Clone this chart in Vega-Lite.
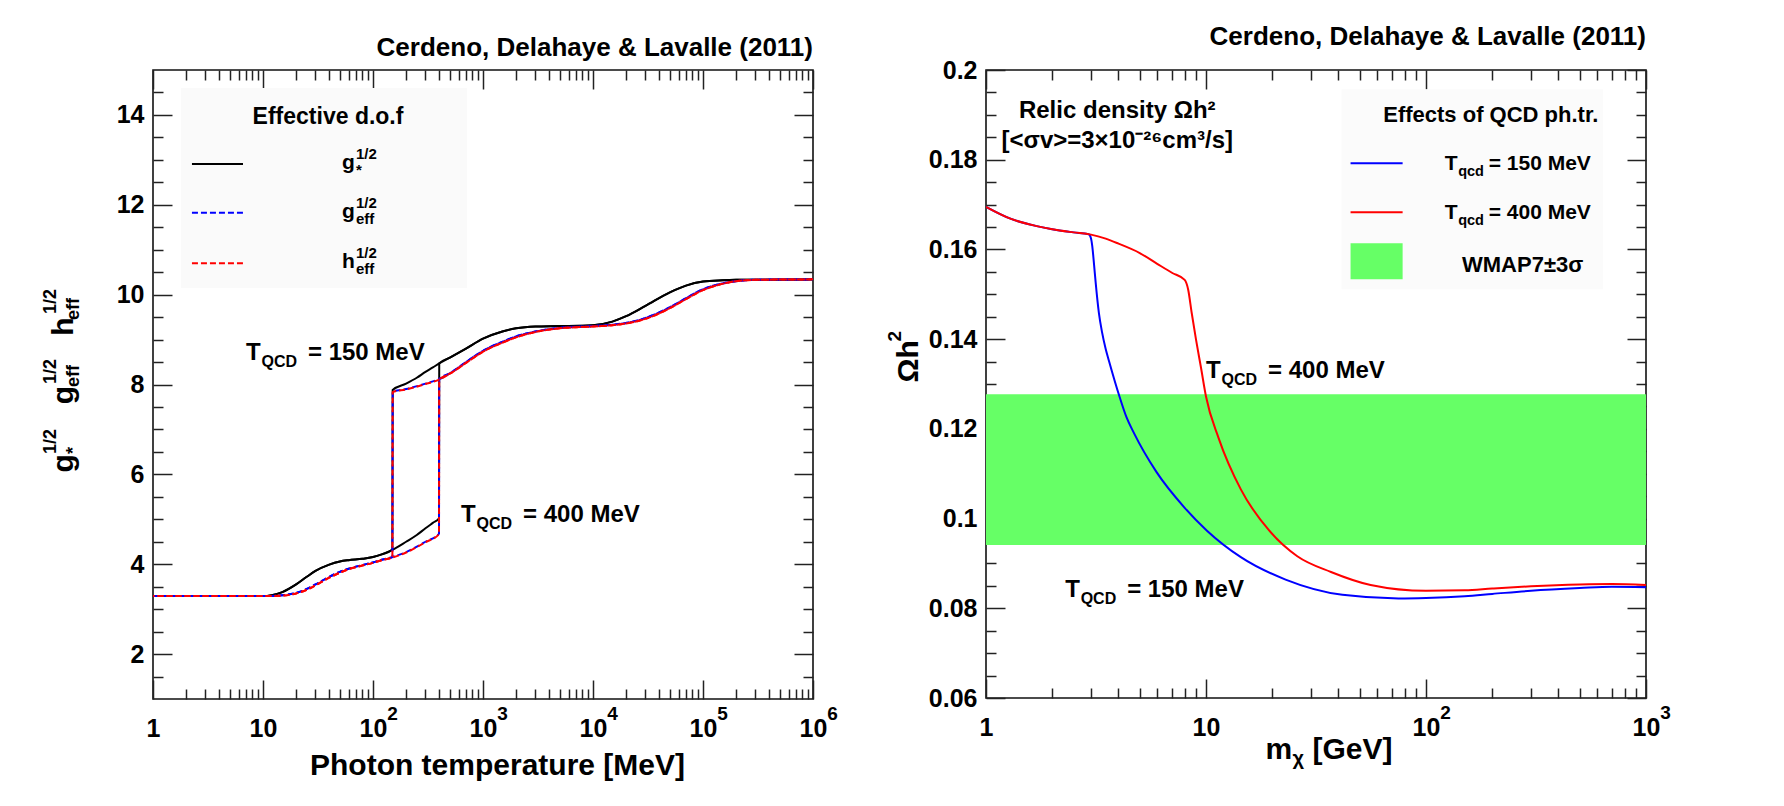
{
 "$schema": "https://vega.github.io/schema/vega-lite/v6.json",
 "background": "#ffffff",
 "padding": {"left": 40, "top": 22, "right": 0, "bottom": 0},
 "bounds": "flush",
 "spacing": 173,
 "resolve": {"scale": {"color": "independent", "fill": "independent", "strokeDash": "independent"}},
 "config": {
  "font": "Liberation Sans",
  "view": {"stroke": "#111111", "strokeWidth": 1.6},
  "axis": {"domain": false, "grid": false, "labelFont": "Liberation Sans", "labelFontWeight": "bold", "labelFontSize": 25, "labelColor": "#000000", "labelFlush": false, "labelOverlap": false, "labelBound": false, "tickColor": "#222222", "tickWidth": 1.5, "titleFont": "Liberation Sans", "titleFontWeight": "bold", "titleColor": "#000000", "titleFontSize": 30},
  "title": {"font": "Liberation Sans", "fontWeight": "bold", "fontSize": 26, "color": "#000000", "anchor": "end", "frame": "group", "offset": 8.5},
  "text": {"font": "Liberation Sans", "fontWeight": "bold", "color": "#000000"}
 },
 "datasets": {
  "leftCurves": [
   {"q":"gs","tq":150,"T":1,"v":3.29},{"q":"gs","tq":150,"T":5,"v":3.29},{"q":"gs","tq":150,"T":10,"v":3.29},{"q":"gs","tq":150,"T":12,"v":3.31},{"q":"gs","tq":150,"T":15,"v":3.38},{"q":"gs","tq":150,"T":20,"v":3.55},{"q":"gs","tq":150,"T":25,"v":3.72},{"q":"gs","tq":150,"T":30,"v":3.85},{"q":"gs","tq":150,"T":40,"v":3.99},{"q":"gs","tq":150,"T":50,"v":4.06},{"q":"gs","tq":150,"T":60,"v":4.09},{"q":"gs","tq":150,"T":80,"v":4.12},{"q":"gs","tq":150,"T":100,"v":4.16},{"q":"gs","tq":150,"T":120,"v":4.22},{"q":"gs","tq":150,"T":150,"v":4.32},{"q":"gs","tq":150,"T":151,"v":7.88},{"q":"gs","tq":150,"T":200,"v":8.02},{"q":"gs","tq":150,"T":250,"v":8.15},{"q":"gs","tq":150,"T":300,"v":8.28},{"q":"gs","tq":150,"T":350,"v":8.38},{"q":"gs","tq":150,"T":400,"v":8.47},{"q":"gs","tq":150,"T":500,"v":8.6},{"q":"gs","tq":150,"T":700,"v":8.8},{"q":"gs","tq":150,"T":1000,"v":9.02},{"q":"gs","tq":150,"T":1500,"v":9.18},{"q":"gs","tq":150,"T":2000,"v":9.25},{"q":"gs","tq":150,"T":3000,"v":9.29},{"q":"gs","tq":150,"T":5000,"v":9.3},{"q":"gs","tq":150,"T":10000,"v":9.32},{"q":"gs","tq":150,"T":15000,"v":9.4},{"q":"gs","tq":150,"T":20000,"v":9.52},{"q":"gs","tq":150,"T":30000,"v":9.75},{"q":"gs","tq":150,"T":50000,"v":10.05},{"q":"gs","tq":150,"T":70000,"v":10.2},{"q":"gs","tq":150,"T":100000,"v":10.29},{"q":"gs","tq":150,"T":150000,"v":10.32},{"q":"gs","tq":150,"T":200000,"v":10.33},{"q":"gs","tq":150,"T":1000000,"v":10.34},
   {"q":"gs","tq":400,"T":1,"v":3.29},{"q":"gs","tq":400,"T":10,"v":3.29},{"q":"gs","tq":400,"T":12,"v":3.31},{"q":"gs","tq":400,"T":15,"v":3.38},{"q":"gs","tq":400,"T":20,"v":3.55},{"q":"gs","tq":400,"T":25,"v":3.72},{"q":"gs","tq":400,"T":30,"v":3.85},{"q":"gs","tq":400,"T":40,"v":3.99},{"q":"gs","tq":400,"T":50,"v":4.06},{"q":"gs","tq":400,"T":60,"v":4.09},{"q":"gs","tq":400,"T":80,"v":4.12},{"q":"gs","tq":400,"T":100,"v":4.16},{"q":"gs","tq":400,"T":120,"v":4.22},{"q":"gs","tq":400,"T":150,"v":4.32},{"q":"gs","tq":400,"T":200,"v":4.5},{"q":"gs","tq":400,"T":250,"v":4.65},{"q":"gs","tq":400,"T":300,"v":4.8},{"q":"gs","tq":400,"T":350,"v":4.92},{"q":"gs","tq":400,"T":398,"v":5.02},{"q":"gs","tq":400,"T":400,"v":8.47},{"q":"gs","tq":400,"T":500,"v":8.6},{"q":"gs","tq":400,"T":700,"v":8.8},{"q":"gs","tq":400,"T":1000,"v":9.02},{"q":"gs","tq":400,"T":1500,"v":9.18},{"q":"gs","tq":400,"T":2000,"v":9.25},{"q":"gs","tq":400,"T":3000,"v":9.29},{"q":"gs","tq":400,"T":5000,"v":9.3},{"q":"gs","tq":400,"T":10000,"v":9.32},{"q":"gs","tq":400,"T":15000,"v":9.4},{"q":"gs","tq":400,"T":20000,"v":9.52},{"q":"gs","tq":400,"T":30000,"v":9.75},{"q":"gs","tq":400,"T":50000,"v":10.05},{"q":"gs","tq":400,"T":70000,"v":10.2},{"q":"gs","tq":400,"T":100000,"v":10.29},{"q":"gs","tq":400,"T":150000,"v":10.32},{"q":"gs","tq":400,"T":200000,"v":10.33},{"q":"gs","tq":400,"T":1000000,"v":10.34},
   {"q":"geff","tq":150,"T":1,"v":3.29},{"q":"geff","tq":150,"T":10,"v":3.29},{"q":"geff","tq":150,"T":15,"v":3.31},{"q":"geff","tq":150,"T":20,"v":3.36},{"q":"geff","tq":150,"T":25,"v":3.45},{"q":"geff","tq":150,"T":30,"v":3.55},{"q":"geff","tq":150,"T":40,"v":3.72},{"q":"geff","tq":150,"T":50,"v":3.83},{"q":"geff","tq":150,"T":60,"v":3.9},{"q":"geff","tq":150,"T":80,"v":3.98},{"q":"geff","tq":150,"T":100,"v":4.04},{"q":"geff","tq":150,"T":120,"v":4.1},{"q":"geff","tq":150,"T":150,"v":4.16},{"q":"geff","tq":150,"T":151,"v":7.84},{"q":"geff","tq":150,"T":200,"v":7.9},{"q":"geff","tq":150,"T":300,"v":8.02},{"q":"geff","tq":150,"T":400,"v":8.12},{"q":"geff","tq":150,"T":500,"v":8.25},{"q":"geff","tq":150,"T":700,"v":8.5},{"q":"geff","tq":150,"T":1000,"v":8.75},{"q":"geff","tq":150,"T":1500,"v":8.95},{"q":"geff","tq":150,"T":2000,"v":9.07},{"q":"geff","tq":150,"T":3000,"v":9.18},{"q":"geff","tq":150,"T":5000,"v":9.26},{"q":"geff","tq":150,"T":10000,"v":9.3},{"q":"geff","tq":150,"T":15000,"v":9.33},{"q":"geff","tq":150,"T":20000,"v":9.37},{"q":"geff","tq":150,"T":30000,"v":9.48},{"q":"geff","tq":150,"T":50000,"v":9.72},{"q":"geff","tq":150,"T":70000,"v":9.92},{"q":"geff","tq":150,"T":100000,"v":10.12},{"q":"geff","tq":150,"T":150000,"v":10.25},{"q":"geff","tq":150,"T":200000,"v":10.3},{"q":"geff","tq":150,"T":300000,"v":10.33},{"q":"geff","tq":150,"T":1000000,"v":10.34},
   {"q":"geff","tq":400,"T":1,"v":3.29},{"q":"geff","tq":400,"T":10,"v":3.29},{"q":"geff","tq":400,"T":15,"v":3.31},{"q":"geff","tq":400,"T":20,"v":3.36},{"q":"geff","tq":400,"T":25,"v":3.45},{"q":"geff","tq":400,"T":30,"v":3.55},{"q":"geff","tq":400,"T":40,"v":3.72},{"q":"geff","tq":400,"T":50,"v":3.83},{"q":"geff","tq":400,"T":60,"v":3.9},{"q":"geff","tq":400,"T":80,"v":3.98},{"q":"geff","tq":400,"T":100,"v":4.04},{"q":"geff","tq":400,"T":120,"v":4.1},{"q":"geff","tq":400,"T":150,"v":4.16},{"q":"geff","tq":400,"T":200,"v":4.27},{"q":"geff","tq":400,"T":300,"v":4.5},{"q":"geff","tq":400,"T":398,"v":4.68},{"q":"geff","tq":400,"T":400,"v":8.12},{"q":"geff","tq":400,"T":500,"v":8.25},{"q":"geff","tq":400,"T":700,"v":8.5},{"q":"geff","tq":400,"T":1000,"v":8.75},{"q":"geff","tq":400,"T":1500,"v":8.95},{"q":"geff","tq":400,"T":2000,"v":9.07},{"q":"geff","tq":400,"T":3000,"v":9.18},{"q":"geff","tq":400,"T":5000,"v":9.26},{"q":"geff","tq":400,"T":10000,"v":9.3},{"q":"geff","tq":400,"T":15000,"v":9.33},{"q":"geff","tq":400,"T":20000,"v":9.37},{"q":"geff","tq":400,"T":30000,"v":9.48},{"q":"geff","tq":400,"T":50000,"v":9.72},{"q":"geff","tq":400,"T":70000,"v":9.92},{"q":"geff","tq":400,"T":100000,"v":10.12},{"q":"geff","tq":400,"T":150000,"v":10.25},{"q":"geff","tq":400,"T":200000,"v":10.3},{"q":"geff","tq":400,"T":300000,"v":10.33},{"q":"geff","tq":400,"T":1000000,"v":10.34},
   {"q":"heff","tq":150,"T":1,"v":3.29},{"q":"heff","tq":150,"T":10,"v":3.29},{"q":"heff","tq":150,"T":15,"v":3.3},{"q":"heff","tq":150,"T":20,"v":3.35},{"q":"heff","tq":150,"T":25,"v":3.43},{"q":"heff","tq":150,"T":30,"v":3.53},{"q":"heff","tq":150,"T":40,"v":3.7},{"q":"heff","tq":150,"T":50,"v":3.81},{"q":"heff","tq":150,"T":60,"v":3.89},{"q":"heff","tq":150,"T":80,"v":3.97},{"q":"heff","tq":150,"T":100,"v":4.03},{"q":"heff","tq":150,"T":120,"v":4.09},{"q":"heff","tq":150,"T":150,"v":4.15},{"q":"heff","tq":150,"T":151,"v":7.83},{"q":"heff","tq":150,"T":200,"v":7.89},{"q":"heff","tq":150,"T":300,"v":8.01},{"q":"heff","tq":150,"T":400,"v":8.11},{"q":"heff","tq":150,"T":500,"v":8.24},{"q":"heff","tq":150,"T":700,"v":8.48},{"q":"heff","tq":150,"T":1000,"v":8.73},{"q":"heff","tq":150,"T":1500,"v":8.93},{"q":"heff","tq":150,"T":2000,"v":9.05},{"q":"heff","tq":150,"T":3000,"v":9.17},{"q":"heff","tq":150,"T":5000,"v":9.25},{"q":"heff","tq":150,"T":10000,"v":9.29},{"q":"heff","tq":150,"T":15000,"v":9.32},{"q":"heff","tq":150,"T":20000,"v":9.36},{"q":"heff","tq":150,"T":30000,"v":9.46},{"q":"heff","tq":150,"T":50000,"v":9.7},{"q":"heff","tq":150,"T":70000,"v":9.9},{"q":"heff","tq":150,"T":100000,"v":10.1},{"q":"heff","tq":150,"T":150000,"v":10.24},{"q":"heff","tq":150,"T":200000,"v":10.3},{"q":"heff","tq":150,"T":300000,"v":10.33},{"q":"heff","tq":150,"T":1000000,"v":10.34},
   {"q":"heff","tq":400,"T":1,"v":3.29},{"q":"heff","tq":400,"T":10,"v":3.29},{"q":"heff","tq":400,"T":15,"v":3.3},{"q":"heff","tq":400,"T":20,"v":3.35},{"q":"heff","tq":400,"T":25,"v":3.43},{"q":"heff","tq":400,"T":30,"v":3.53},{"q":"heff","tq":400,"T":40,"v":3.7},{"q":"heff","tq":400,"T":50,"v":3.81},{"q":"heff","tq":400,"T":60,"v":3.89},{"q":"heff","tq":400,"T":80,"v":3.97},{"q":"heff","tq":400,"T":100,"v":4.03},{"q":"heff","tq":400,"T":120,"v":4.09},{"q":"heff","tq":400,"T":150,"v":4.15},{"q":"heff","tq":400,"T":200,"v":4.26},{"q":"heff","tq":400,"T":300,"v":4.49},{"q":"heff","tq":400,"T":398,"v":4.67},{"q":"heff","tq":400,"T":400,"v":8.11},{"q":"heff","tq":400,"T":500,"v":8.24},{"q":"heff","tq":400,"T":700,"v":8.48},{"q":"heff","tq":400,"T":1000,"v":8.73},{"q":"heff","tq":400,"T":1500,"v":8.93},{"q":"heff","tq":400,"T":2000,"v":9.05},{"q":"heff","tq":400,"T":3000,"v":9.17},{"q":"heff","tq":400,"T":5000,"v":9.25},{"q":"heff","tq":400,"T":10000,"v":9.29},{"q":"heff","tq":400,"T":15000,"v":9.32},{"q":"heff","tq":400,"T":20000,"v":9.36},{"q":"heff","tq":400,"T":30000,"v":9.46},{"q":"heff","tq":400,"T":50000,"v":9.7},{"q":"heff","tq":400,"T":70000,"v":9.9},{"q":"heff","tq":400,"T":100000,"v":10.1},{"q":"heff","tq":400,"T":150000,"v":10.24},{"q":"heff","tq":400,"T":200000,"v":10.3},{"q":"heff","tq":400,"T":300000,"v":10.33},{"q":"heff","tq":400,"T":1000000,"v":10.34}
  ],
  "leftBox": [{"x1": 1.8, "x2": 716, "y1": 10.15, "y2": 14.6}],
  "leftLeg": [
   {"q":"gs","x1":2.26,"x2":6.58,"y":12.91},
   {"q":"geff","x1":2.26,"x2":6.58,"y":11.82},
   {"q":"heff","x1":2.26,"x2":6.58,"y":10.70}
  ],
  "leftText": [
   {"k":"title","x":39,"y":13.8,"t":"Effective d.o.f"},
   {"k":"lab","x":52.2,"y":12.8,"t":"g","p":"1/2","s":"*"},
   {"k":"lab","x":52.2,"y":11.71,"t":"g","p":"1/2","s":"eff"},
   {"k":"lab","x":52.2,"y":10.59,"t":"h","p":"1/2","s":"eff"},
   {"k":"T","x":7.0,"y":8.545,"t":"T","s":"QCD","r":"= 150 MeV"},
   {"k":"T","x":631,"y":4.93,"t":"T","s":"QCD","r":"= 400 MeV"}
  ],
  "rightCurves": [
   {"tq":"400","m":1,"v":0.1695},{"tq":"400","m":1.3,"v":0.1668},{"tq":"400","m":1.7,"v":0.1652},{"tq":"400","m":2,"v":0.1645},{"tq":"400","m":2.5,"v":0.1638},{"tq":"400","m":3,"v":0.1633},{"tq":"400","m":3.5,"v":0.1624},{"tq":"400","m":4,"v":0.1613},{"tq":"400","m":5,"v":0.1592},{"tq":"400","m":6,"v":0.1568},{"tq":"400","m":7,"v":0.1548},{"tq":"400","m":8,"v":0.1532},{"tq":"400","m":8.3,"v":0.151},{"tq":"400","m":8.6,"v":0.146},{"tq":"400","m":9,"v":0.14},{"tq":"400","m":9.5,"v":0.1335},{"tq":"400","m":10,"v":0.1272},{"tq":"400","m":11.4,"v":0.118},{"tq":"400","m":14.4,"v":0.1065},{"tq":"400","m":19.4,"v":0.0973},{"tq":"400","m":26,"v":0.0916},{"tq":"400","m":37,"v":0.0881},{"tq":"400","m":56,"v":0.0852},{"tq":"400","m":100,"v":0.0839},{"tq":"400","m":150,"v":0.084},{"tq":"400","m":200,"v":0.0844},{"tq":"400","m":300,"v":0.0849},{"tq":"400","m":500,"v":0.0853},{"tq":"400","m":700,"v":0.0854},{"tq":"400","m":1000,"v":0.0852},
   {"tq":"150","m":1,"v":0.1695},{"tq":"150","m":1.3,"v":0.1668},{"tq":"150","m":1.7,"v":0.1652},{"tq":"150","m":2,"v":0.1645},{"tq":"150","m":2.5,"v":0.1638},{"tq":"150","m":2.93,"v":0.1634},{"tq":"150","m":3.0,"v":0.1625},{"tq":"150","m":3.04,"v":0.1608},{"tq":"150","m":3.1,"v":0.1565},{"tq":"150","m":3.15,"v":0.1527},{"tq":"150","m":3.26,"v":0.1458},{"tq":"150","m":3.37,"v":0.1415},{"tq":"150","m":3.5,"v":0.1378},{"tq":"150","m":3.62,"v":0.1352},{"tq":"150","m":4.05,"v":0.1271},{"tq":"150","m":4.35,"v":0.1226},{"tq":"150","m":4.7,"v":0.1191},{"tq":"150","m":5.95,"v":0.1104},{"tq":"150","m":8,"v":0.1024},{"tq":"150","m":10.1,"v":0.0973},{"tq":"150","m":14.4,"v":0.0914},{"tq":"150","m":23,"v":0.0864},{"tq":"150","m":41.7,"v":0.083},{"tq":"150","m":75,"v":0.0822},{"tq":"150","m":100,"v":0.0823},{"tq":"150","m":150,"v":0.0827},{"tq":"150","m":200,"v":0.0832},{"tq":"150","m":300,"v":0.0839},{"tq":"150","m":500,"v":0.0845},{"tq":"150","m":700,"v":0.0848},{"tq":"150","m":1000,"v":0.0847}
  ],
  "band": [{"lo": 0.0941, "hi": 0.1277}],
  "rightBox": [
   {"k":"box","x1":41.3,"x2":637,"y1":0.1511,"y2":0.1957},
   {"k":"wmap","x1":45.4,"x2":78.3,"y1":0.15335,"y2":0.16137}
  ],
  "rightLeg": [
   {"tq":"150","x1":45.4,"x2":78.3,"y":0.1792},
   {"tq":"400","x1":45.4,"x2":78.3,"y":0.16828}
  ],
  "rightText": [
   {"k":"T","x":10.0,"y":0.1313,"t":"T","s":"QCD","r":"= 400 MeV"},
   {"k":"T","x":2.29,"y":0.08246,"t":"T","s":"QCD","r":"= 150 MeV"},
   {"k":"L","x":121.6,"y":0.17764,"t":"T","s":"qcd","r":"= 150 MeV"},
   {"k":"L","x":121.6,"y":0.16672,"t":"T","s":"qcd","r":"= 400 MeV"},
   {"k":"c","x":275,"y":0.15501,"t":"WMAP7±3σ"},
   {"k":"c","x":197,"y":0.18845,"t":"Effects of QCD ph.tr."},
   {"k":"rel","x":3.95,"y":0.18934,"t":"Relic density Ωh²"},
   {"k":"rel","x":3.95,"y":0.18255,"t":"[<σv>=3×10⁻²⁶cm³/s]"}
  ]
 },
 "hconcat": [
  {
   "width": 660, "height": 629,
   "title": "Cerdeno, Delahaye & Lavalle (2011)",
   "resolve": {"axis": {"x": "independent", "y": "independent"}},
   "layer": [
    {
     "data": {"name": "leftBox"},
     "mark": {"type": "rect", "fill": "#fafafa"},
     "encoding": {
      "x": {"field": "x1", "type": "quantitative", "scale": {"type": "log", "domain": [1, 1000000], "nice": false}, "axis": {"orient": "top", "values": [2,3,4,5,6,7,8,9,20,30,40,50,60,70,80,90,200,300,400,500,600,700,800,900,2000,3000,4000,5000,6000,7000,8000,9000,20000,30000,40000,50000,60000,70000,80000,90000,200000,300000,400000,500000,600000,700000,800000,900000], "tickSize": -10, "labels": false, "title": null}},
      "x2": {"field": "x2"},
      "y": {"field": "y1", "type": "quantitative", "scale": {"domain": [1, 15], "nice": false, "zero": false}, "axis": {"orient": "right", "values": [1.5,2.5,3,3.5,4.5,5,5.5,6.5,7,7.5,8.5,9,9.5,10.5,11,11.5,12.5,13,13.5,14.5], "tickSize": -10, "labels": false, "title": null}},
      "y2": {"field": "y2"}
     }
    },
    {
     "data": {"name": "leftCurves"},
     "transform": [{"filter": "datum.q == 'gs'"}],
     "mark": {"type": "line", "strokeWidth": 2, "interpolate": "monotone", "clip": true},
     "encoding": {
      "x": {"field": "T", "type": "quantitative", "scale": {"type": "log", "domain": [1, 1000000], "nice": false}, "axis": {"orient": "bottom", "values": [1,10,100,1000,10000,100000,1000000], "tickSize": -19, "labelPadding": 36, "labelExpr": "datum.value < 50 ? '' + datum.value : '10'", "title": "Photon temperature [MeV]", "titleX": 344, "titleY": 75, "titleAlign": "center", "titleBaseline": "alphabetic"}},
      "y": {"field": "v", "type": "quantitative", "scale": {"domain": [1, 15], "nice": false, "zero": false}, "axis": {"orient": "left", "values": [2,4,6,8,10,12,14], "tickSize": -19, "labelPadding": 28, "title": "g\u00a0\u00a0\u00a0\u00a0\u00a0\u00a0g\u00a0\u00a0\u00a0\u00a0\u00a0\u00a0h", "titleAngle": -90, "titleX": -81, "titleY": 402, "titleAlign": "left", "titleBaseline": "alphabetic"}},
      "color": {"field": "q", "type": "nominal", "scale": {"domain": ["gs","geff","heff"], "range": ["#000000","#0000ff","#ff0000"]}, "legend": null},
      "detail": {"field": "tq"}
     }
    },
    {
     "data": {"name": "leftCurves"},
     "transform": [{"filter": "datum.q == 'geff'"}],
     "mark": {"type": "line", "strokeWidth": 2, "interpolate": "monotone", "clip": true, "strokeDash": [6, 3]},
     "encoding": {
      "x": {"field": "T", "type": "quantitative", "scale": {"type": "log", "domain": [1, 1000000], "nice": false}, "axis": {"orient": "bottom", "values": [2,3,4,5,6,7,8,9,20,30,40,50,60,70,80,90,200,300,400,500,600,700,800,900,2000,3000,4000,5000,6000,7000,8000,9000,20000,30000,40000,50000,60000,70000,80000,90000,200000,300000,400000,500000,600000,700000,800000,900000], "tickSize": -10, "labels": false, "title": null}},
      "y": {"field": "v", "type": "quantitative", "scale": {"domain": [1, 15], "nice": false, "zero": false}, "axis": {"orient": "left", "values": [1.5,2.5,3,3.5,4.5,5,5.5,6.5,7,7.5,8.5,9,9.5,10.5,11,11.5,12.5,13,13.5,14.5], "tickSize": -10, "labels": false, "title": "1/2\u00a0\u00a0\u00a0\u00a0\u00a0\u00a0\u00a0\u00a0\u00a01/2\u00a0\u00a0\u00a0\u00a0\u00a0\u00a0\u00a0\u00a0\u00a01/2", "titleFontSize": 18, "titleAngle": -90, "titleX": -98, "titleY": 383.5, "titleAlign": "left", "titleBaseline": "alphabetic"}},
      "color": {"field": "q", "type": "nominal", "scale": {"domain": ["gs","geff","heff"], "range": ["#000000","#0000ff","#ff0000"]}, "legend": null},
      "detail": {"field": "tq"}
     }
    },
    {
     "data": {"name": "leftCurves"},
     "transform": [{"filter": "datum.q == 'heff'"}],
     "mark": {"type": "line", "strokeWidth": 2, "interpolate": "monotone", "clip": true, "strokeDash": [6, 3], "strokeDashOffset": 4.5},
     "encoding": {
      "x": {"field": "T", "type": "quantitative", "scale": {"type": "log", "domain": [1, 1000000], "nice": false}, "axis": {"orient": "top", "values": [1,10,100,1000,10000,100000,1000000], "tickSize": -19, "labels": false, "title": null}},
      "y": {"field": "v", "type": "quantitative", "scale": {"domain": [1, 15], "nice": false, "zero": false}, "axis": {"orient": "right", "values": [2,4,6,8,10,12,14], "tickSize": -19, "labels": false, "title": "*\u00a0\u00a0\u00a0\u00a0\u00a0\u00a0\u00a0\u00a0\u00a0\u00a0\u00a0\u00a0eff\u00a0\u00a0\u00a0\u00a0\u00a0\u00a0\u00a0\u00a0\u00a0eff", "titleFontSize": 18, "titleAngle": -90, "titleX": -735, "titleY": 383.5, "titleAlign": "left", "titleBaseline": "alphabetic"}},
      "color": {"field": "q", "type": "nominal", "scale": {"domain": ["gs","geff","heff"], "range": ["#000000","#0000ff","#ff0000"]}, "legend": null},
      "detail": {"field": "tq"}
     }
    },
    {
     "data": {"name": "leftLeg"},
     "mark": {"type": "rule", "strokeWidth": 2},
     "encoding": {
      "x": {"field": "x1", "type": "quantitative", "scale": {"type": "log", "domain": [1, 1000000], "nice": false}, "axis": {"orient": "bottom", "values": [100,1000,10000,100000,1000000], "tickSize": -19, "tickOpacity": 0, "labelPadding": 24, "labelFontSize": 19, "labelOffset": 19, "labelExpr": "'' + round(log(datum.value) / LN10)", "title": null}},
      "x2": {"field": "x2"},
      "y": {"field": "y", "type": "quantitative", "scale": {"domain": [1, 15], "nice": false, "zero": false}, "axis": null},
      "color": {"field": "q", "type": "nominal", "scale": {"domain": ["gs","geff","heff"], "range": ["#000000","#0000ff","#ff0000"]}, "legend": null},
      "strokeDash": {"field": "q", "type": "nominal", "scale": {"domain": ["gs","geff","heff"], "range": [[1,0],[6,3],[6,3]]}, "legend": null}
     }
    },
    {
     "data": {"name": "leftText"},
     "transform": [{"filter": "datum.k == 'T'"}],
     "mark": {"type": "text", "align": "left", "baseline": "alphabetic", "fontSize": 24},
     "encoding": {
      "x": {"field": "x", "type": "quantitative", "scale": {"type": "log", "domain": [1, 1000000], "nice": false}, "axis": null},
      "y": {"field": "y", "type": "quantitative", "scale": {"domain": [1, 15], "nice": false, "zero": false}, "axis": null},
      "text": {"field": "t"}
     }
    },
    {
     "data": {"name": "leftText"},
     "transform": [{"filter": "datum.k == 'T'"}],
     "mark": {"type": "text", "align": "left", "baseline": "alphabetic", "fontSize": 16, "dx": 15.5, "dy": 6.5},
     "encoding": {
      "x": {"field": "x", "type": "quantitative", "scale": {"type": "log", "domain": [1, 1000000], "nice": false}, "axis": null},
      "y": {"field": "y", "type": "quantitative", "scale": {"domain": [1, 15], "nice": false, "zero": false}, "axis": null},
      "text": {"field": "s"}
     }
    },
    {
     "data": {"name": "leftText"},
     "transform": [{"filter": "datum.k == 'T'"}],
     "mark": {"type": "text", "align": "left", "baseline": "alphabetic", "fontSize": 24, "dx": 62},
     "encoding": {
      "x": {"field": "x", "type": "quantitative", "scale": {"type": "log", "domain": [1, 1000000], "nice": false}, "axis": null},
      "y": {"field": "y", "type": "quantitative", "scale": {"domain": [1, 15], "nice": false, "zero": false}, "axis": null},
      "text": {"field": "r"}
     }
    },
    {
     "data": {"name": "leftText"},
     "transform": [{"filter": "datum.k == 'lab'"}],
     "mark": {"type": "text", "align": "left", "baseline": "alphabetic", "fontSize": 21},
     "encoding": {
      "x": {"field": "x", "type": "quantitative", "scale": {"type": "log", "domain": [1, 1000000], "nice": false}, "axis": null},
      "y": {"field": "y", "type": "quantitative", "scale": {"domain": [1, 15], "nice": false, "zero": false}, "axis": null},
      "text": {"field": "t"}
     }
    },
    {
     "data": {"name": "leftText"},
     "transform": [{"filter": "datum.k == 'lab'"}],
     "mark": {"type": "text", "align": "left", "baseline": "alphabetic", "fontSize": 15, "dx": 14, "dy": -10},
     "encoding": {
      "x": {"field": "x", "type": "quantitative", "scale": {"type": "log", "domain": [1, 1000000], "nice": false}, "axis": null},
      "y": {"field": "y", "type": "quantitative", "scale": {"domain": [1, 15], "nice": false, "zero": false}, "axis": null},
      "text": {"field": "p"}
     }
    },
    {
     "data": {"name": "leftText"},
     "transform": [{"filter": "datum.k == 'lab'"}],
     "mark": {"type": "text", "align": "left", "baseline": "alphabetic", "fontSize": 15, "dx": 14, "dy": 6},
     "encoding": {
      "x": {"field": "x", "type": "quantitative", "scale": {"type": "log", "domain": [1, 1000000], "nice": false}, "axis": null},
      "y": {"field": "y", "type": "quantitative", "scale": {"domain": [1, 15], "nice": false, "zero": false}, "axis": null},
      "text": {"field": "s"}
     }
    },
    {
     "data": {"name": "leftText"},
     "transform": [{"filter": "datum.k == 'title'"}],
     "mark": {"type": "text", "align": "center", "baseline": "alphabetic", "fontSize": 23},
     "encoding": {
      "x": {"field": "x", "type": "quantitative", "scale": {"type": "log", "domain": [1, 1000000], "nice": false}, "axis": null},
      "y": {"field": "y", "type": "quantitative", "scale": {"domain": [1, 15], "nice": false, "zero": false}, "axis": null},
      "text": {"field": "t"}
     }
    }
   ]
  },
  {
   "width": 660, "height": 628,
   "title": "Cerdeno, Delahaye & Lavalle (2011)",
   "resolve": {"axis": {"x": "independent", "y": "independent"}},
   "layer": [
    {
     "data": {"name": "band"},
     "mark": {"type": "rect", "fill": "#66ff66"},
     "encoding": {
      "y": {"field": "lo", "type": "quantitative", "scale": {"domain": [0.06, 0.2], "nice": false, "zero": false}, "axis": {"orient": "right", "values": [0.065,0.07,0.075,0.085,0.09,0.095,0.105,0.11,0.115,0.125,0.13,0.135,0.145,0.15,0.155,0.165,0.17,0.175,0.185,0.19,0.195], "tickSize": -10, "labels": false, "title": null}},
      "y2": {"field": "hi"}
     }
    },
    {
     "data": {"name": "rightBox"},
     "mark": {"type": "rect"},
     "encoding": {
      "x": {"field": "x1", "type": "quantitative", "scale": {"type": "log", "domain": [1, 1000], "nice": false}, "axis": {"orient": "top", "values": [2,3,4,5,6,7,8,9,20,30,40,50,60,70,80,90,200,300,400,500,600,700,800,900], "tickSize": -10, "labels": false, "title": null}},
      "x2": {"field": "x2"},
      "y": {"field": "y1", "type": "quantitative", "scale": {"domain": [0.06, 0.2], "nice": false, "zero": false}, "axis": null},
      "y2": {"field": "y2"},
      "fill": {"field": "k", "type": "nominal", "scale": {"domain": ["box", "wmap"], "range": ["#fbfbfb", "#66ff66"]}, "legend": null}
     }
    },
    {
     "data": {"name": "rightCurves"},
     "transform": [{"filter": "datum.tq == '150'"}],
     "mark": {"type": "line", "strokeWidth": 2, "interpolate": "monotone", "clip": true},
     "encoding": {
      "x": {"field": "m", "type": "quantitative", "scale": {"type": "log", "domain": [1, 1000], "nice": false}, "axis": {"orient": "bottom", "values": [1,10,100,1000], "tickSize": -19, "labelPadding": 36, "labelExpr": "datum.value < 50 ? '' + datum.value : '10'", "title": "m", "titleX": 279, "titleY": 60, "titleAlign": "left", "titleBaseline": "alphabetic"}},
      "y": {"field": "v", "type": "quantitative", "scale": {"domain": [0.06, 0.2], "nice": false, "zero": false}, "axis": {"orient": "left", "values": [0.06,0.08,0.1,0.12,0.14,0.16,0.18,0.2], "format": "~g", "tickSize": -19, "labelPadding": 28, "title": "Ωh", "titleAngle": -90, "titleX": -69, "titleY": 312, "titleAlign": "left", "titleBaseline": "alphabetic"}},
      "color": {"field": "tq", "type": "nominal", "scale": {"domain": ["150", "400"], "range": ["#0000ff", "#ff0000"]}, "legend": null}
     }
    },
    {
     "data": {"name": "rightCurves"},
     "transform": [{"filter": "datum.tq == '400'"}],
     "mark": {"type": "line", "strokeWidth": 2, "interpolate": "monotone", "clip": true},
     "encoding": {
      "x": {"field": "m", "type": "quantitative", "scale": {"type": "log", "domain": [1, 1000], "nice": false}, "axis": {"orient": "bottom", "values": [2,3,4,5,6,7,8,9,20,30,40,50,60,70,80,90,200,300,400,500,600,700,800,900], "tickSize": -10, "labels": false, "title": "χ", "titleFontSize": 20, "titleX": 306, "titleY": 66.6, "titleAlign": "left", "titleBaseline": "alphabetic"}},
      "y": {"field": "v", "type": "quantitative", "scale": {"domain": [0.06, 0.2], "nice": false, "zero": false}, "axis": {"orient": "left", "values": [0.065,0.07,0.075,0.085,0.09,0.095,0.105,0.11,0.115,0.125,0.13,0.135,0.145,0.15,0.155,0.165,0.17,0.175,0.185,0.19,0.195], "tickSize": -10, "labels": false, "title": null}},
      "color": {"field": "tq", "type": "nominal", "scale": {"domain": ["150", "400"], "range": ["#0000ff", "#ff0000"]}, "legend": null}
     }
    },
    {
     "data": {"name": "rightLeg"},
     "mark": {"type": "rule", "strokeWidth": 2},
     "encoding": {
      "x": {"field": "x1", "type": "quantitative", "scale": {"type": "log", "domain": [1, 1000], "nice": false}, "axis": {"orient": "top", "values": [1,10,100,1000], "tickSize": -19, "labels": false, "title": null}},
      "x2": {"field": "x2"},
      "y": {"field": "y", "type": "quantitative", "scale": {"domain": [0.06, 0.2], "nice": false, "zero": false}, "axis": {"orient": "right", "values": [0.06,0.08,0.1,0.12,0.14,0.16,0.18,0.2], "tickSize": -19, "labels": false, "title": null}},
      "color": {"field": "tq", "type": "nominal", "scale": {"domain": ["150", "400"], "range": ["#0000ff", "#ff0000"]}, "legend": null}
     }
    },
    {
     "data": {"name": "rightText"},
     "transform": [{"filter": "datum.k == 'T'"}],
     "mark": {"type": "text", "align": "left", "baseline": "alphabetic", "fontSize": 24},
     "encoding": {
      "x": {"field": "x", "type": "quantitative", "scale": {"type": "log", "domain": [1, 1000], "nice": false}, "axis": {"orient": "bottom", "values": [100,1000], "tickSize": -19, "tickOpacity": 0, "labelPadding": 24, "labelFontSize": 19, "labelOffset": 19, "labelExpr": "'' + round(log(datum.value) / LN10)", "title": null}},
      "y": {"field": "y", "type": "quantitative", "scale": {"domain": [0.06, 0.2], "nice": false, "zero": false}, "axis": {"orient": "left", "ticks": false, "labels": false, "title": "2", "titleFontSize": 19, "titleAngle": -90, "titleX": -86, "titleY": 271, "titleAlign": "left", "titleBaseline": "alphabetic"}},
      "text": {"field": "t"}
     }
    },
    {
     "data": {"name": "rightText"},
     "transform": [{"filter": "datum.k == 'T'"}],
     "mark": {"type": "text", "align": "left", "baseline": "alphabetic", "fontSize": 16, "dx": 15.5, "dy": 6.5},
     "encoding": {
      "x": {"field": "x", "type": "quantitative", "scale": {"type": "log", "domain": [1, 1000], "nice": false}, "axis": {"orient": "bottom", "ticks": false, "labels": false, "title": "[GeV]", "titleX": 326, "titleY": 60, "titleAlign": "left", "titleBaseline": "alphabetic"}},
      "y": {"field": "y", "type": "quantitative", "scale": {"domain": [0.06, 0.2], "nice": false, "zero": false}, "axis": null},
      "text": {"field": "s"}
     }
    },
    {
     "data": {"name": "rightText"},
     "transform": [{"filter": "datum.k == 'T'"}],
     "mark": {"type": "text", "align": "left", "baseline": "alphabetic", "fontSize": 24, "dx": 62},
     "encoding": {
      "x": {"field": "x", "type": "quantitative", "scale": {"type": "log", "domain": [1, 1000], "nice": false}, "axis": null},
      "y": {"field": "y", "type": "quantitative", "scale": {"domain": [0.06, 0.2], "nice": false, "zero": false}, "axis": null},
      "text": {"field": "r"}
     }
    },
    {
     "data": {"name": "rightText"},
     "transform": [{"filter": "datum.k == 'L'"}],
     "mark": {"type": "text", "align": "left", "baseline": "alphabetic", "fontSize": 21},
     "encoding": {
      "x": {"field": "x", "type": "quantitative", "scale": {"type": "log", "domain": [1, 1000], "nice": false}, "axis": null},
      "y": {"field": "y", "type": "quantitative", "scale": {"domain": [0.06, 0.2], "nice": false, "zero": false}, "axis": null},
      "text": {"field": "t"}
     }
    },
    {
     "data": {"name": "rightText"},
     "transform": [{"filter": "datum.k == 'L'"}],
     "mark": {"type": "text", "align": "left", "baseline": "alphabetic", "fontSize": 14.5, "dx": 13.5, "dy": 6},
     "encoding": {
      "x": {"field": "x", "type": "quantitative", "scale": {"type": "log", "domain": [1, 1000], "nice": false}, "axis": null},
      "y": {"field": "y", "type": "quantitative", "scale": {"domain": [0.06, 0.2], "nice": false, "zero": false}, "axis": null},
      "text": {"field": "s"}
     }
    },
    {
     "data": {"name": "rightText"},
     "transform": [{"filter": "datum.k == 'L'"}],
     "mark": {"type": "text", "align": "left", "baseline": "alphabetic", "fontSize": 21, "dx": 44},
     "encoding": {
      "x": {"field": "x", "type": "quantitative", "scale": {"type": "log", "domain": [1, 1000], "nice": false}, "axis": null},
      "y": {"field": "y", "type": "quantitative", "scale": {"domain": [0.06, 0.2], "nice": false, "zero": false}, "axis": null},
      "text": {"field": "r"}
     }
    },
    {
     "data": {"name": "rightText"},
     "transform": [{"filter": "datum.k == 'c'"}],
     "mark": {"type": "text", "align": "center", "baseline": "alphabetic", "fontSize": 22},
     "encoding": {
      "x": {"field": "x", "type": "quantitative", "scale": {"type": "log", "domain": [1, 1000], "nice": false}, "axis": null},
      "y": {"field": "y", "type": "quantitative", "scale": {"domain": [0.06, 0.2], "nice": false, "zero": false}, "axis": null},
      "text": {"field": "t"}
     }
    },
    {
     "data": {"name": "rightText"},
     "transform": [{"filter": "datum.k == 'rel'"}],
     "mark": {"type": "text", "align": "center", "baseline": "alphabetic", "fontSize": 24},
     "encoding": {
      "x": {"field": "x", "type": "quantitative", "scale": {"type": "log", "domain": [1, 1000], "nice": false}, "axis": null},
      "y": {"field": "y", "type": "quantitative", "scale": {"domain": [0.06, 0.2], "nice": false, "zero": false}, "axis": null},
      "text": {"field": "t"}
     }
    }
   ]
  }
 ]
}
